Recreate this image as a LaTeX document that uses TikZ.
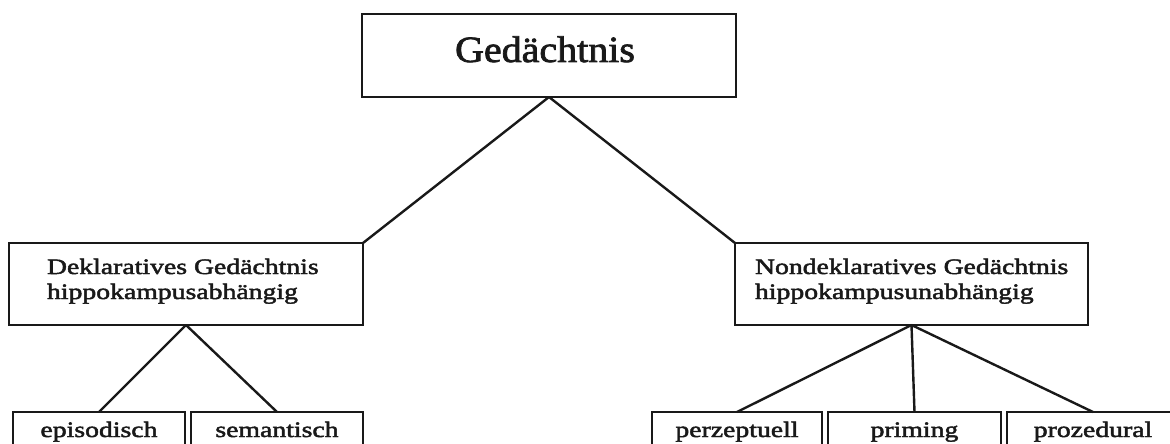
\documentclass[tikz,border=0pt]{standalone}
\usepackage{fontspec}
\setmainfont{Liberation Serif}
\newfontfamily\diafont[FakeStretch=1.26,FakeBold=2.2]{Liberation Serif}
\newfontfamily\topfont[FakeStretch=1.08,FakeBold=2.0]{Liberation Serif}
\begin{document}
\begin{tikzpicture}[x=1pt,y=-1pt,
  box/.style={draw=black!90, line width=2.4pt, rectangle, inner sep=0pt, outer sep=0pt},
  lbl/.style={inner sep=0pt, outer sep=0pt, font=\diafont\fontsize{22}{25}\selectfont, text=black!90},
  toplbl/.style={inner sep=0pt, outer sep=0pt, font=\topfont\fontsize{37}{40}\selectfont, text=black!90},
  link/.style={draw=black!90, line width=2.4pt}]
\useasboundingbox (0,0) rectangle (1170,444);
\clip (0,0) rectangle (1170,444);
% boxes
\node[box, minimum width=374pt, minimum height=83pt] (top) at (549,55.5) {};
\node[box, minimum width=354pt, minimum height=82pt] (dek) at (186,284) {};
\node[box, minimum width=353pt, minimum height=82pt] (ndek) at (911.5,284) {};
\node[box, minimum width=172pt, minimum height=60pt] (epi) at (99,442) {};
\node[box, minimum width=172pt, minimum height=60pt] (sem) at (277,442) {};
\node[box, minimum width=170pt, minimum height=60pt] (per) at (737,442) {};
\node[box, minimum width=173pt, minimum height=60pt] (pri) at (914.5,442) {};
\node[box, minimum width=172pt, minimum height=60pt] (pro) at (1093,442) {};
% texts
\node[toplbl, anchor=base] (ttop) at (545,62) {Gedächtnis};
\node[lbl, anchor=base west] (tdek1) at (47,274) {Deklaratives Gedächtnis};
\node[lbl, anchor=base west] (tdek2) at (47,299) {hippokampusabhängig};
\node[lbl, anchor=base west] (tndek1) at (755,274) {Nondeklaratives Gedächtnis};
\node[lbl, anchor=base west] (tndek2) at (755,299) {hippokampusunabhängig};
\node[lbl, anchor=base] (tepi) at (99,437) {episodisch};
\node[lbl, anchor=base] (tsem) at (277,437) {semantisch};
\node[lbl, anchor=base] (tper) at (737,437) {perzeptuell};
\node[lbl, anchor=base] (tpri) at (914.5,437) {priming};
\node[lbl, anchor=base] (tpro) at (1093,437) {prozedural};
% connectors
\draw[link] (top.south) -- (dek.north east);
\draw[link] (top.south) -- (ndek.north west);
\draw[link] (dek.south) -- (epi.north);
\draw[link] (dek.south) -- (sem.north);
\draw[link] (ndek.south) -- (per.north);
\draw[link] (ndek.south) -- (pri.north);
\draw[link] (ndek.south) -- (pro.north);
\end{tikzpicture}
\end{document}
